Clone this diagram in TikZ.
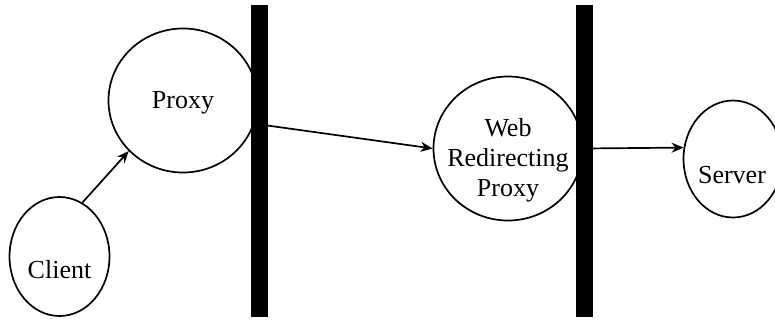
\documentclass[tikz,border=0pt]{standalone}
\usepackage{fontspec}
\setmainfont{Liberation Serif}
\usetikzlibrary{shapes.geometric,arrows.meta}
\begin{document}
\begin{tikzpicture}[x=1pt,y=-1pt,
  circ/.style={draw, ellipse, inner sep=0pt, line width=1.7pt},
  lbl/.style={font=\fontsize{26}{30}\selectfont, align=center, inner sep=0pt},
  arr/.style={-{Stealth[length=12pt,width=10pt]}, line width=1.7pt},
  wall/.style={fill=black, draw=none, rectangle, inner sep=0pt, minimum width=17pt, minimum height=311.7pt}]
\useasboundingbox (0,0) rectangle (775,322);
\node[circ, minimum width=100pt, minimum height=119pt] (client) at (59.5,256.5) {};
\node[circ, minimum width=149pt, minimum height=144pt] (proxy) at (183,100.5) {};
\node[circ, minimum width=149pt, minimum height=144pt] (web) at (508,148.5) {};
\node[circ, minimum width=99pt, minimum height=117pt] (server) at (733,159) {};
\node[lbl] (tclient) at (59.5,270) {Client};
\node[lbl] (tproxy) at (183,103) {Proxy};
\node[lbl] (tweb) at (508,160) {Web\\Redirecting\\Proxy};
\node[lbl] (tserver) at (732,175) {Server};
\draw[arr] (client.67) -- (proxy.223);
\draw[arr] (proxy.-18) -- (web.west);
\draw[arr] (web.east) -- (server.167);
\node[wall] (bar1) at (259.2,160.85) {};
\node[wall] (bar2) at (584,160.85) {};
\end{tikzpicture}
\end{document}
